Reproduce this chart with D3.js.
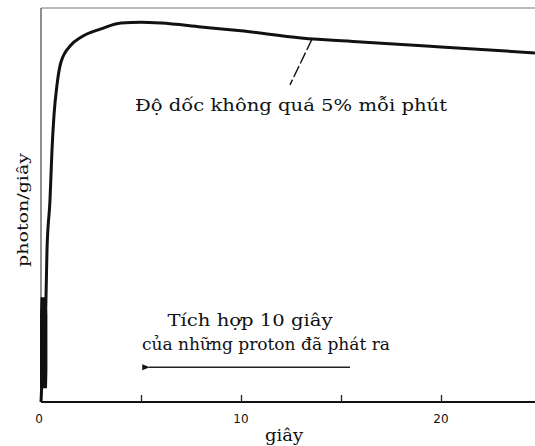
<!DOCTYPE html>
<html>
<head>
<meta charset="utf-8">
<script src="https://cdn.jsdelivr.net/npm/d3@7"></script>
<style>
  html, body { margin: 0; padding: 0; background: #fff; }
  svg { display: block; }
</style>
</head>
<body>
<svg id="chart" width="535" height="446"></svg>
<script>
// Proton emission rate over time (seconds), relative units 0–100
const times  = [0, 0.05, 0.15, 0.25, 0.3, 0.45, 0.55, 0.65, 0.8, 1.0, 1.5, 2, 3, 4, 5, 6, 8, 10, 13, 16, 20, 24.7];
const rates  = [0, 5.6, 18.3, 26.6, 38.6, 51.3, 64, 72.8, 80.5, 86.3, 90.6, 92.6, 94.7, 96.2, 96.4, 96.2, 95.2, 94.2, 92.4, 91.4, 90.1, 88.6];

// Dense burst at the very start of the rise
const burstRates = [3.5, 8, 15, 22, 26.6];
const burstLeft  = [-0.05, -0.05, -0.05, -0.05, -0.02];
const burstRight = [0.3, 0.32, 0.32, 0.32, 0.3];

const xTicks = [5, 10, 15, 20];
const xTickLabels = [0, 10, 20];

// Annotations
const slopeNote = "Độ dốc không quá 5% mỗi phút";
const slopeLeader = [[13.55, 92.1], [12.45, 80.5]];
const integLines = ["Tích hợp 10 giây", "của những proton đã phát ra"];
const integArrow = [15.45, 5.3];
const integArrowLevel = 8.8;

const svg = d3.select("#chart");
const margin = { left: 41, right: 0, top: 8, bottom: 44 };
const W = 535, H = 446;

const x = d3.scaleLinear().domain([0, 24.7]).range([margin.left, W - margin.right]);
const y = d3.scaleLinear().domain([0, 100]).range([H - margin.bottom, margin.top]);

const serif = "'DejaVu Serif', 'Liberation Serif', serif";

function label(txt, px, py, len, size) {
  return svg.append("text")
    .attr("x", px).attr("y", py)
    .attr("text-anchor", "middle")
    .attr("font-family", serif).attr("font-size", size).attr("fill", "#111")
    .attr("textLength", len).attr("lengthAdjust", "spacingAndGlyphs")
    .text(txt);
}

// Frame: thin top border and left axis
svg.append("line")
  .attr("x1", x(0)).attr("x2", W).attr("y1", y(100)).attr("y2", y(100))
  .attr("stroke", "#777").attr("stroke-width", 1.2);
svg.append("line")
  .attr("x1", x(0)).attr("x2", x(0)).attr("y1", y(100)).attr("y2", y(0))
  .attr("stroke", "#444").attr("stroke-width", 1.2);

// Bottom axis with inward ticks
const xAxis = d3.axisBottom(x).tickValues(xTicks).tickSize(-7).tickFormat("");
const gx = svg.append("g").attr("transform", `translate(0,${y(0)})`).call(xAxis);
gx.select(".domain").attr("stroke", "#111").attr("stroke-width", 2).attr("d", `M${x(0)},0H${W}`);
gx.selectAll(".tick line").attr("stroke", "#222").attr("stroke-width", 1.3);

// Tick labels
svg.append("g").selectAll("text").data(xTickLabels).join("text")
  .attr("x", d => x(d) - (d === 0 ? 2 : 0))
  .attr("y", y(0) + 21)
  .attr("text-anchor", "middle")
  .attr("font-family", "'DejaVu Sans', sans-serif")
  .attr("font-size", 12)
  .attr("fill", "#111")
  .text(d => d);

// Axis titles
label("giây", 284, 441, 38, 16);
svg.append("text")
  .attr("transform", "translate(28,210) rotate(-90)")
  .attr("text-anchor", "middle")
  .attr("font-family", serif).attr("font-size", 15).attr("fill", "#111")
  .attr("textLength", 114).attr("lengthAdjust", "spacingAndGlyphs")
  .text("photon/giây");

// Start-up burst
const burst = burstRates.map((r, i) => ({ r, l: burstLeft[i], h: burstRight[i] }));
svg.append("path")
  .datum(burst)
  .attr("fill", "#111")
  .attr("d", d3.area().curve(d3.curveLinear)
    .y(d => y(d.r)).x0(d => x(d.l)).x1(d => x(d.h)));

// Emission curve
const pts = times.map((t, i) => [t, rates[i]]);
svg.append("path")
  .datum(pts)
  .attr("fill", "none")
  .attr("stroke", "#111")
  .attr("stroke-width", 3)
  .attr("stroke-linejoin", "round")
  .attr("d", d3.line().x(d => x(d[0])).y(d => y(d[1])).curve(d3.curveMonotoneX));

// Slope note with leader line
svg.append("line")
  .attr("x1", x(slopeLeader[0][0])).attr("y1", y(slopeLeader[0][1]))
  .attr("x2", x(slopeLeader[1][0])).attr("y2", y(slopeLeader[1][1]))
  .attr("stroke", "#111").attr("stroke-width", 1.4)
  .attr("stroke-dasharray", "12,3");
label(slopeNote, 291, 111, 312, 16);

// Integration window note with arrow
label(integLines[0], 250, 326, 165, 16);
label(integLines[1], 266, 350, 248, 16);

svg.append("defs").append("marker")
  .attr("id", "head").attr("viewBox", "0 0 10 10")
  .attr("refX", 1).attr("refY", 5)
  .attr("markerWidth", 6).attr("markerHeight", 5)
  .attr("orient", "auto")
  .append("path").attr("d", "M10,1 L0,5 L10,9 Z").attr("fill", "#111");

svg.append("line")
  .attr("x1", x(integArrow[0])).attr("x2", x(integArrow[1]) + 2)
  .attr("y1", y(integArrowLevel)).attr("y2", y(integArrowLevel))
  .attr("stroke", "#222").attr("stroke-width", 1.5)
  .attr("marker-end", "url(#head)");
</script>
</body>
</html>
